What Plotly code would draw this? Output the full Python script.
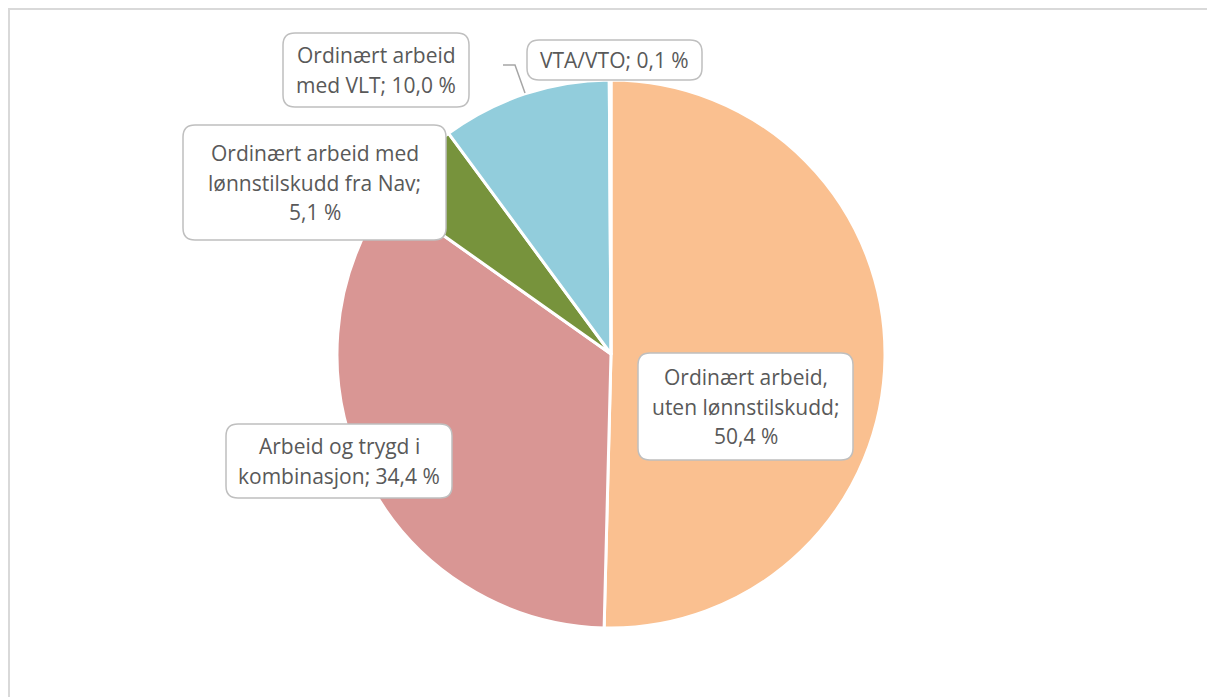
import textwrap

import plotly.graph_objects as go

W, H = 1215, 697
OFF = 8  # the page body margin shifts the figure by this many pixels

# data (clockwise from 12 o'clock)
categories = [
    "Ordinært arbeid, uten lønnstilskudd",
    "Arbeid og trygd i kombinasjon",
    "Ordinært arbeid med lønnstilskudd fra Nav",
    "Ordinært arbeid med VLT",
    "VTA/VTO",
]
shares = [50.4, 34.4, 5.1, 10.0, 0.1]
colors = ["#FAC090", "#D99694", "#77933C", "#92CDDC", "#B3A2C7"]

# label boxes in screen pixels (x0, y0, x1, y1) and wrap width in characters
boxes = [
    (638, 353, 853, 460, 19),
    (226, 424, 452, 498, 19),
    (183, 125, 446, 240, 22),
    (283, 33, 469, 107, 16),
    (527, 40, 702, 80, 16),
]
LINE_H = 29.5
TEXT_COLOR = "#595959"
FONT = "Open Sans"


def px(x):
    return (x - OFF) / W


def py(y):
    return 1 - (y - OFF) / H


def rounded_box(x0, y0, x1, y1, r=12):
    rx, ry = r / W, r / H
    a, b, c, d = px(x0), py(y0), px(x1), py(y1)  # b is top, d is bottom
    return (
        f"M {a + rx},{b} L {c - rx},{b} Q {c},{b} {c},{b - ry} "
        f"L {c},{d + ry} Q {c},{d} {c - rx},{d} "
        f"L {a + rx},{d} Q {a},{d} {a},{d + ry} "
        f"L {a},{b - ry} Q {a},{b} {a + rx},{b} Z"
    )


fig = go.Figure()
fig.add_trace(
    go.Pie(
        labels=categories,
        values=shares,
        sort=False,
        direction="clockwise",
        rotation=0,
        marker=dict(colors=colors, line=dict(color="white", width=3)),
        textinfo="none",
        hoverinfo="label+percent",
        showlegend=False,
        domain=dict(x=[px(337), px(885)], y=[py(628), py(80)]),
    )
)

shapes = [
    # outer chart frame
    dict(type="rect", xref="paper", yref="paper", x0=px(9), x1=1.05, y0=-0.05, y1=py(9),
         line=dict(color="#D9D9D9", width=2), fillcolor="rgba(0,0,0,0)", layer="below"),
    # leader line for the tiny slice
    dict(type="path", xref="paper", yref="paper",
         path=f"M {px(503)},{py(65)} L {px(515)},{py(65)} L {px(525)},{py(93)}",
         line=dict(color="#A6A6A6", width=1.5)),
]
annotations = []
for cat, val, (x0, y0, x1, y1, wrap) in zip(categories, shares, boxes):
    shapes.append(
        dict(type="path", xref="paper", yref="paper", path=rounded_box(x0, y0, x1, y1),
             line=dict(color="#BFBFBF", width=1.5), fillcolor="white", layer="above")
    )
    pct = f"{val:.1f}".replace(".", ",")
    lines = textwrap.wrap(f"{cat}; {pct} %", width=wrap)
    cx, cy = (x0 + x1) / 2, (y0 + y1) / 2
    n = len(lines)
    for i, line in enumerate(lines):
        ly = cy + (i - (n - 1) / 2) * LINE_H
        annotations.append(
            dict(text=line, x=px(cx), y=py(ly), xref="paper", yref="paper",
                 showarrow=False, xanchor="center", yanchor="middle",
                 font=dict(family=FONT, size=21, color=TEXT_COLOR))
        )

fig.update_layout(
    width=W,
    height=H,
    margin=dict(l=0, r=0, t=0, b=0),
    paper_bgcolor="white",
    plot_bgcolor="white",
    shapes=shapes,
    annotations=annotations,
)

fig.write_html("out.html")
